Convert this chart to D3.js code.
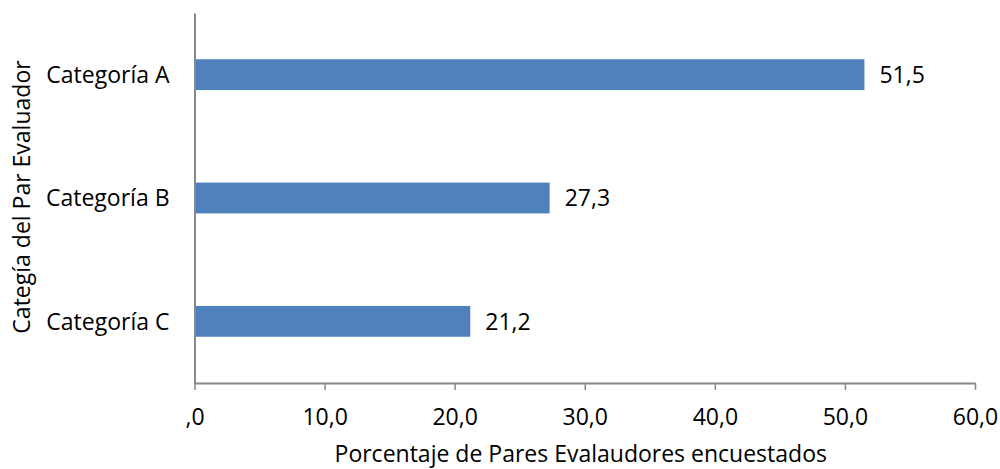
<!DOCTYPE html>
<html>
<head>
<meta charset="utf-8">
<script src="https://cdn.jsdelivr.net/npm/d3@7"></script>
<style>
  body { margin: 0; background: #fff; }
  svg text { font-family: "Open Sans", sans-serif; fill: #000; }
</style>
</head>
<body>
<div id="chart"></div>
<script>
// data
const categories = ["Categoría A", "Categoría B", "Categoría C"];
const values = [51.5, 27.3, 21.2];
const xTicks = [0, 10, 20, 30, 40, 50, 60];
const xTickLabels = [",0", "10,0", "20,0", "30,0", "40,0", "50,0", "60,0"];

const width = 1000, height = 469;
const margin = { top: 13, right: 25, bottom: 86, left: 194.5 };
const fontSize = 23;

const svg = d3.select("#chart").append("svg")
  .attr("width", width)
  .attr("height", height);

const x = d3.scaleLinear()
  .domain([0, 60])
  .range([margin.left, width - margin.right]);

const y = d3.scaleBand()
  .domain(categories)
  .range([margin.top, height - margin.bottom])
  .paddingInner(0.75)
  .paddingOuter(0.375);

// bars
svg.append("g")
  .selectAll("rect")
  .data(values)
  .join("rect")
  .attr("x", x(0))
  .attr("y", (d, i) => y(categories[i]))
  .attr("width", d => x(d) - x(0))
  .attr("height", y.bandwidth())
  .attr("fill", "#4F81BD");

// value labels
svg.append("g")
  .selectAll("text")
  .data(values)
  .join("text")
  .attr("x", d => x(d) + 15)
  .attr("y", (d, i) => y(categories[i]) + y.bandwidth() / 2)
  .attr("dy", "0.36em")
  .style("font-size", fontSize + "px")
  .text(d => d.toFixed(1).replace(".", ","));

// x axis
const xAxis = svg.append("g")
  .attr("transform", `translate(0,${height - margin.bottom})`)
  .call(d3.axisBottom(x)
    .tickValues(xTicks)
    .tickFormat((d, i) => xTickLabels[i])
    .tickSize(7)
    .tickSizeOuter(0));
xAxis.select(".domain").attr("stroke", "#888").attr("stroke-width", 2);
xAxis.selectAll(".tick line").attr("stroke", "#888").attr("stroke-width", 1.5);
xAxis.selectAll(".tick text")
  .attr("y", 42).attr("dy", null)
  .style("font-size", fontSize + "px");

// y axis (line only, category labels)
const yAxis = svg.append("g")
  .attr("transform", `translate(${margin.left},0)`)
  .call(d3.axisLeft(y).tickSize(0).tickSizeOuter(0).tickPadding(25));
yAxis.select(".domain").attr("stroke", "#888").attr("stroke-width", 2);
yAxis.selectAll(".tick text")
  .attr("dy", "0.36em")
  .style("font-size", fontSize + "px");

// axis titles
svg.append("text")
  .attr("x", (x(0) + x(60)) / 2 - 4)
  .attr("y", 462)
  .attr("text-anchor", "middle")
  .style("font-size", fontSize + "px")
  .text("Porcentaje de Pares Evalaudores encuestados");

svg.append("text")
  .attr("transform", "translate(30,197) rotate(-90)")
  .attr("text-anchor", "middle")
  .style("font-size", fontSize + "px")
  .text("Categía del Par Evaluador");
</script>
</body>
</html>
